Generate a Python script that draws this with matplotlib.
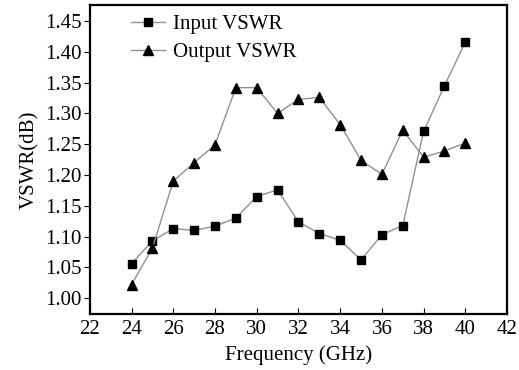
import matplotlib.pyplot as plt

plt.rcParams['font.family'] = ['Liberation Serif', 'DejaVu Serif']

freq = [24, 25, 26, 27, 28, 29, 30, 31, 32, 33, 34, 35, 36, 37, 38, 39, 40]
input_vswr = [1.056, 1.093, 1.113, 1.110, 1.117, 1.130, 1.165, 1.176, 1.124, 1.105,
              1.094, 1.062, 1.103, 1.118, 1.271, 1.345, 1.416]
output_vswr = [1.022, 1.081, 1.190, 1.220, 1.249, 1.342, 1.342, 1.300, 1.323, 1.326,
               1.282, 1.224, 1.201, 1.273, 1.229, 1.239, 1.252]

xticks = [22, 24, 26, 28, 30, 32, 34, 36, 38, 40, 42]
yticks = [1.00, 1.05, 1.10, 1.15, 1.20, 1.25, 1.30, 1.35, 1.40, 1.45]

fig = plt.figure(figsize=(5.19, 3.70), dpi=100)
ax = fig.add_axes([0.173, 0.151, 0.804, 0.835])

ax.plot(freq, input_vswr, color='#909090', linewidth=1.0, marker='s', markersize=6,
        markerfacecolor='black', markeredgecolor='black', label='Input VSWR')
ax.plot(freq, output_vswr, color='#909090', linewidth=1.0, marker='^', markersize=6.5,
        markerfacecolor='black', markeredgecolor='black', label='Output VSWR')

ax.set_xlim(22, 42)
ax.set_ylim(0.974, 1.476)
ax.set_xticks(xticks)
ax.set_yticks(yticks)
ax.set_yticklabels(['%.2f' % v for v in yticks])
ax.tick_params(axis='x', direction='in', length=4, labelsize=15, pad=4)
ax.tick_params(axis='y', direction='out', length=4, labelsize=15, pad=2)
ax.tick_params(top=False, right=False)
for s in ax.spines.values():
    s.set_linewidth(1.6)

ax.set_xlabel('Frequency (GHz)', fontsize=15, labelpad=5)
ax.set_ylabel('VSWR(dB)', fontsize=15, labelpad=4)

ax.legend(loc='upper left', bbox_to_anchor=(0.07, 1.01), frameon=False, fontsize=15,
          handlelength=1.6, handletextpad=0.4, labelspacing=0.4, borderaxespad=0.2)

fig.savefig('out.png', dpi=100)
